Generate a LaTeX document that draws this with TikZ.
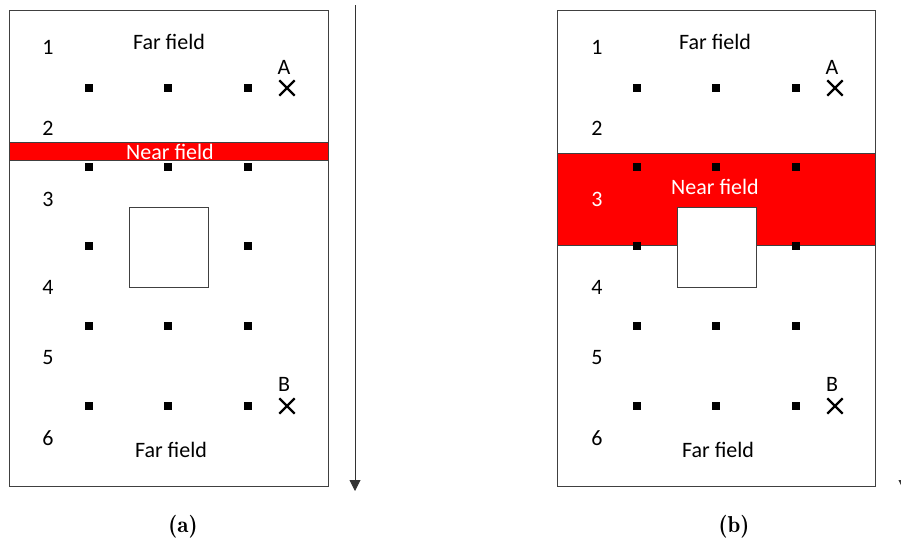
\documentclass[tikz,border=0pt]{standalone}
\usepackage{fontspec}
\setmainfont{Carlito}
\usetikzlibrary{shapes.misc,arrows.meta}
\begin{document}
\begin{tikzpicture}[x=1pt,y=-1pt,
  frame/.style={draw=black!75,line width=0.8pt,fill=white},
  band/.style={draw=black!75,line width=0.8pt,fill=red},
  dot/.style={fill=black,inner sep=0pt,minimum size=8.5pt},
  xmark/.style={cross out,draw=black,line width=2.3pt,inner sep=0pt,minimum size=13pt},
  lbl/.style={font=\fontsize{22}{25}\selectfont,inner sep=0pt},
  captext/.style={font=\fontfamily{lmr}\bfseries\fontsize{23}{26}\selectfont,inner sep=0pt},
  axis/.style={draw=black!80,line width=0.9pt,-{Triangle[length=11pt,width=11pt]}}]
\useasboundingbox (0,0) rectangle (901,547);
\clip (0,0) rectangle (901,547);
% ---------- panel (a)
\node[frame,minimum width=319pt,minimum height=476pt,anchor=north west,inner sep=0pt] (fa) at (9,10) {};
\node[band,minimum width=319pt,minimum height=18pt,anchor=north west,inner sep=0pt] (bnda) at (9,142) {};
\node[lbl,text=white] (nfa) at (170,152) {Near field};
\node[frame,minimum width=79pt,minimum height=80pt,anchor=north west,inner sep=0pt] (sqa) at (129,207) {};
\foreach \yy/\n in {88/1,167/2,326/4,406/5}{
  \node[dot] (a\n1) at (89,\yy) {};
  \node[dot] (a\n2) at (168,\yy) {};
  \node[dot] (a\n3) at (248,\yy) {};
}
\node[dot] (a31) at (89,246) {};
\node[dot] (a33) at (248,246) {};
\node[xmark] (xa) at (287,88) {};
\node[xmark] (xb) at (287,406) {};
\node[lbl] (la) at (284,67) {A};
\node[lbl] (lb) at (284,384) {B};
\node[lbl] (ffa1) at (169,42) {Far field};
\node[lbl] (ffa2) at (171,450) {Far field};
\foreach \yy/\n in {47/1,128/2,199/3,287/4,358/5,438/6}{
  \node[lbl] (na\n) at (48,\yy) {\n};
}
\coordinate (ta) at (355,5);
\coordinate (ha) at (355,491);
\draw[axis] (ta) -- (ha);
\node[captext] (capa) at (183,527) {(a)};
% ---------- panel (b)
\node[frame,minimum width=318pt,minimum height=476pt,anchor=north west,inner sep=0pt] (fb) at (557,10) {};
\node[band,minimum width=318pt,minimum height=92pt,anchor=north west,inner sep=0pt] (bndb) at (557,153) {};
\node[frame,minimum width=79pt,minimum height=80pt,anchor=north west,inner sep=0pt] (sqb) at (677,207) {};
\node[lbl,text=white] (nfb) at (715,187) {Near field};
\foreach \yy/\n in {88/1,167/2,326/4,406/5}{
  \node[dot] (b\n1) at (637,\yy) {};
  \node[dot] (b\n2) at (716,\yy) {};
  \node[dot] (b\n3) at (796,\yy) {};
}
\node[dot] (b31) at (637,246) {};
\node[dot] (b33) at (796,246) {};
\node[xmark] (xc) at (835,88) {};
\node[xmark] (xd) at (835,406) {};
\node[lbl] (lc) at (832,67) {A};
\node[lbl] (ld) at (832,384) {B};
\node[lbl] (ffb1) at (715,42) {Far field};
\node[lbl] (ffb2) at (718,450) {Far field};
\foreach \yy/\n in {47/1,128/2,287/4,358/5,438/6}{
  \node[lbl] (nb\n) at (597,\yy) {\n};
}
\node[lbl,text=white] (nb3) at (597,199) {3};
\coordinate (tb) at (904,5);
\coordinate (hb) at (904,491);
\draw[axis] (tb) -- (hb);
\node[captext] (capb) at (734,527) {(b)};
\end{tikzpicture}
\end{document}
